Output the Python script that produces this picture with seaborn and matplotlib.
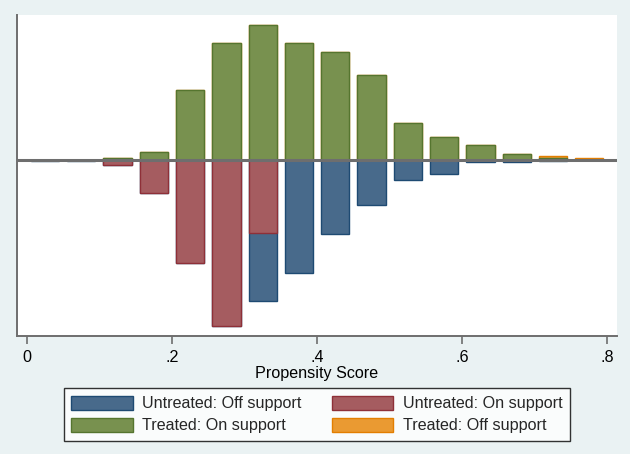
import matplotlib
matplotlib.use("Agg")
import matplotlib.pyplot as plt
from matplotlib.patches import Patch
import seaborn as sns
import pandas as pd

# ---- data (frequencies, arbitrary units) ----
bin_centers = [0.025, 0.075, 0.125, 0.175, 0.225, 0.275, 0.325, 0.375,
               0.425, 0.475, 0.525, 0.575, 0.625, 0.675, 0.725, 0.775]
treated_on = [0, 0, 2, 7.7, 69.7, 117.3, 135, 117.3, 107.7, 85.3, 37.3, 22.7, 15, 5.7, 2, 0]
treated_off = [0, 0, 0, 0, 0, 0, 0, 0, 0, 0, 0, 0, 0, 0, 2, 2]
untreated_on = [0, 0, 5, 33.3, 103.3, 165.7, 73.3, 0, 0, 0, 0, 0, 0, 0, 0, 0]
untreated_off = [0.6, 1.4, 0, 0, 0, 0, 67.7, 113.3, 73.7, 44.7, 20.3, 14.3, 1.7, 1.7, 1.0, 0]
xticks = [0, 0.2, 0.4, 0.6, 0.8]
xticklabels = ["0", ".2", ".4", ".6", ".8"]
legend_labels = ["Untreated: Off support", "Untreated: On support",
                 "Treated: On support", "Treated: Off support"]

df = pd.DataFrame({
    "x": bin_centers,
    "t_on": treated_on,
    "t_total": [a + b for a, b in zip(treated_on, treated_off)],
    "u_on": [-v for v in untreated_on],
    "u_total": [-(a + b) for a, b in zip(untreated_on, untreated_off)],
})

BLUE, BLUE_E = "#486A8B", "#1E4A72"
RED, RED_E = "#A55C60", "#8E3038"
GREEN, GREEN_E = "#78914F", "#55752F"
ORANGE, ORANGE_E = "#EA9A32", "#E37E00"
BG = "#EAF2F3"
AXC = "#6E6E6E"
FS = 11.6

sns.set_theme(style="white")
plt.rcParams["font.family"] = ["Liberation Sans", "DejaVu Sans"]

fig = plt.figure(figsize=(6.3, 4.54), dpi=100, facecolor=BG)
ax = fig.add_axes([17 / 630, 1 - 336 / 454, 600 / 630, 321 / 454])
ax.set_facecolor("white")

W = 0.78
common = dict(x="x", native_scale=True, width=W, linewidth=1.0, ax=ax, errorbar=None)
# untreated (below zero): total first (off support), then on support overlaid
sns.barplot(data=df, y="u_total", color=BLUE, edgecolor=BLUE_E, saturation=1, **common)
sns.barplot(data=df, y="u_on", color=RED, edgecolor=RED_E, saturation=1, **common)
# treated (above zero)
sns.barplot(data=df, y="t_total", color=ORANGE, edgecolor=ORANGE_E, saturation=1, **common)
sns.barplot(data=df, y="t_on", color=GREEN, edgecolor=GREEN_E, saturation=1, **common)

ax.axhline(0, color=AXC, lw=2.2, zorder=10)

ax.set_xlim(-0.0136, 0.8133)
ax.set_ylim(-176, 145)
ax.set_xticks(xticks)
ax.set_xticklabels(xticklabels, fontsize=FS, color="black")
ax.set_yticks([])
ax.tick_params(axis="x", direction="out", length=6, width=1.2, color=AXC, pad=4,
               bottom=True)
ax.set_xlabel("Propensity Score", fontsize=FS, color="black", labelpad=1)
ax.set_ylabel("")

for s in ["top", "right"]:
    ax.spines[s].set_visible(False)
for s in ["left", "bottom"]:
    ax.spines[s].set_color(AXC)
    ax.spines[s].set_linewidth(1.4)

patches = {
    legend_labels[0]: Patch(facecolor=BLUE, edgecolor=BLUE_E, linewidth=1.0),
    legend_labels[1]: Patch(facecolor=RED, edgecolor=RED_E, linewidth=1.0),
    legend_labels[2]: Patch(facecolor=GREEN, edgecolor=GREEN_E, linewidth=1.0),
    legend_labels[3]: Patch(facecolor=ORANGE, edgecolor=ORANGE_E, linewidth=1.0),
}
# matplotlib fills legend columns first: reorder so rows read blue/red, green/orange
order = [legend_labels[0], legend_labels[2], legend_labels[1], legend_labels[3]]
leg = fig.legend([patches[k] for k in order], order, ncol=2, loc="center",
                 bbox_to_anchor=(317 / 630, 1 - 414.5 / 454),
                 fontsize=FS, frameon=True, fancybox=False,
                 handlelength=3.8, handleheight=1.0, handletextpad=0.6,
                 columnspacing=1.9, labelspacing=0.38, borderpad=0.45)
leg.get_frame().set_edgecolor("black")
leg.get_frame().set_linewidth(1.0)
leg.get_frame().set_facecolor("white")

fig.savefig("out.png", dpi=100, facecolor=BG)
